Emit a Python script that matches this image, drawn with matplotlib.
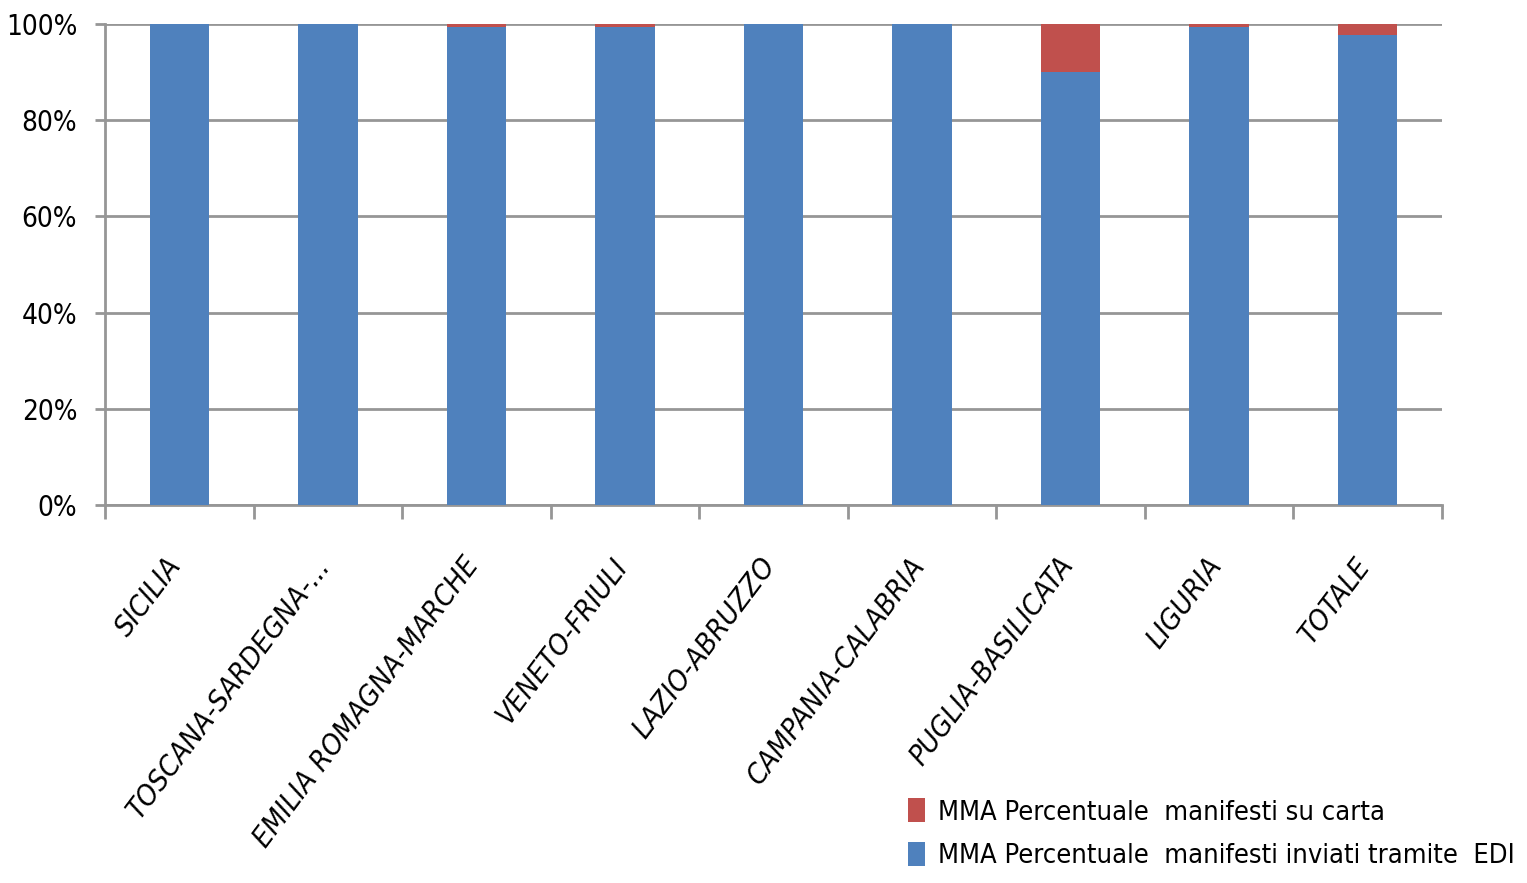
import matplotlib
matplotlib.use('Agg')
from matplotlib import pyplot as plt
from matplotlib.ticker import FixedLocator, PercentFormatter
from matplotlib.transforms import ScaledTranslation
import numpy as np

plt.rcParams['font.family'] = ['DejaVu Sans']
plt.rcParams['font.stretch'] = 'condensed'

# Dati
regioni = ['SICILIA', 'TOSCANA-SARDEGNA-...', 'EMILIA ROMAGNA-MARCHE', 'VENETO-FRIULI',
           'LAZIO-ABRUZZO', 'CAMPANIA-CALABRIA', 'PUGLIA-BASILICATA', 'LIGURIA', 'TOTALE']
edi = [100.0, 100.0, 99.3, 99.3, 100.0, 100.0, 90.0, 99.4, 97.7]
carta = [0.0, 0.0, 0.7, 0.7, 0.0, 0.0, 10.0, 0.6, 2.3]

blu = '#4f81bd'
rosso = '#c0504d'
grigio = '#969696'

fig = plt.figure(figsize=(15.27, 8.83), dpi=100)
ax = fig.add_axes([105 / 1527, 1 - 505 / 883, (1442 - 105) / 1527, (505 - 24) / 883])

x = np.arange(len(regioni))
b1 = ax.bar(x, edi, width=0.4, color=blu, zorder=3, label='MMA Percentuale  manifesti inviati tramite  EDI')
b2 = ax.bar(x, carta, width=0.4, bottom=edi, color=rosso, zorder=3, label='MMA Percentuale  manifesti su carta')

ax.set_xlim(-0.5, len(regioni) - 0.5)
ax.set_ylim(0, 100)
ax.set_yticks([0, 20, 40, 60, 80, 100])
ax.yaxis.set_major_formatter(PercentFormatter(decimals=0))
ax.grid(axis='y', color=grigio, linewidth=2, zorder=0)

for s in ['top', 'right']:
    ax.spines[s].set_visible(False)
for s in ['left', 'bottom']:
    ax.spines[s].set_color(grigio)
    ax.spines[s].set_linewidth(2)

# tacche sui confini delle categorie
ax.set_xticks(x)
ax.xaxis.set_minor_locator(FixedLocator(np.arange(-0.5, len(regioni), 1.0)))
ax.tick_params(axis='x', which='major', length=0, pad=34)
ax.tick_params(axis='x', which='minor', length=10, width=2, color=grigio)
ax.tick_params(axis='y', length=7, width=2, color=grigio, labelsize=20, pad=13)
ax.set_xticklabels(regioni, rotation=53, ha='right', va='top', rotation_mode='anchor',
                   fontsize=21, style='italic')
sposta = ScaledTranslation(-14 / 100, 0, fig.dpi_scale_trans)
for lab in ax.get_xticklabels():
    lab.set_transform(lab.get_transform() + sposta)

handles = [b2, b1]
fig.legend(handles, [h.get_label() for h in handles], loc='lower right',
           bbox_to_anchor=(1.008, -0.012), frameon=False, fontsize=19.5,
           handlelength=0.6, handleheight=1.0, handletextpad=0.5, labelspacing=0.6)

plt.savefig('out.png', dpi=100)
